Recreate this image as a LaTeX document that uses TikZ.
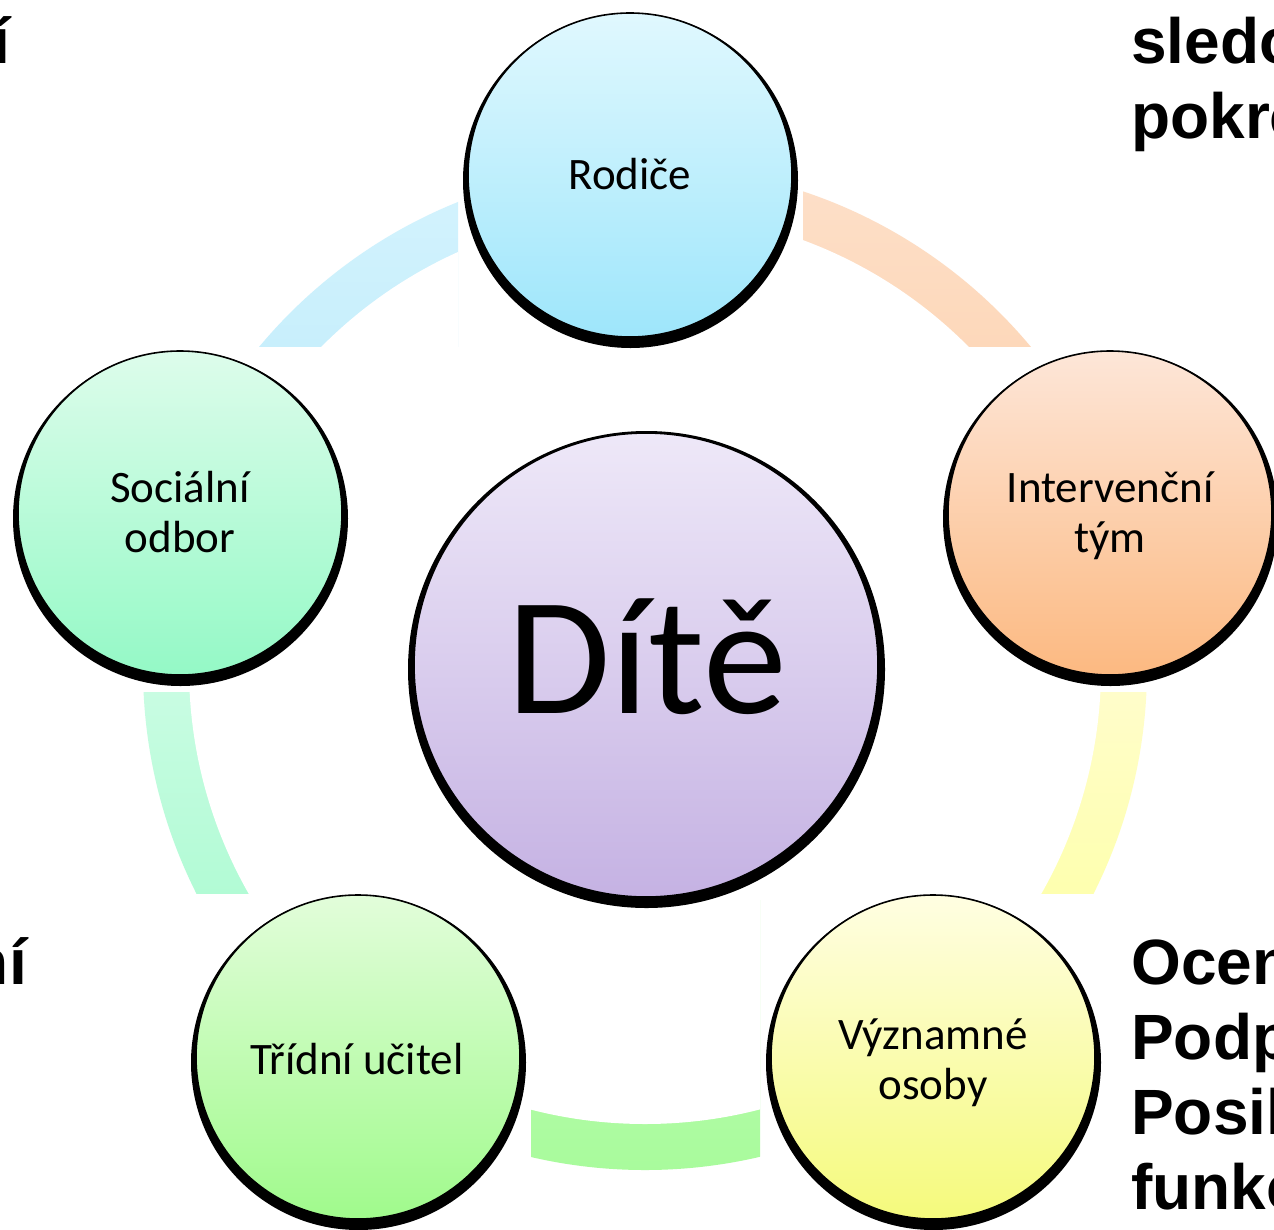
\documentclass[tikz,border=0pt]{standalone}
\usepackage{fontspec}
\setmainfont{Carlito}
\newfontfamily\headfont{Liberation Sans}
\usetikzlibrary{calc}
\definecolor{rodT}{HTML}{E0F8FE}\definecolor{rodB}{HTML}{9EE6FB}
\definecolor{intT}{HTML}{FDE6D8}\definecolor{intB}{HTML}{FCB981}
\definecolor{socT}{HTML}{DDFCEB}\definecolor{socB}{HTML}{94F9C6}
\definecolor{triT}{HTML}{E2FDDA}\definecolor{triB}{HTML}{A0FA8C}
\definecolor{vyzT}{HTML}{FFFEE2}\definecolor{vyzB}{HTML}{F5FA7C}
\definecolor{ditT}{HTML}{EEE8F8}\definecolor{ditB}{HTML}{C5B2E3}
\definecolor{aTLt}{HTML}{E0F7FE}\definecolor{aTLb}{HTML}{C8EFFC}
\definecolor{aTRt}{HTML}{FDE7D8}\definecolor{aTRb}{HTML}{FDD8BA}
\definecolor{aRt}{HTML}{FFFDCA}\definecolor{aRb}{HTML}{FEFFAF}
\definecolor{aBt}{HTML}{C2FCB8}\definecolor{aBb}{HTML}{A3FB96}
\definecolor{aLt}{HTML}{C8FCE2}\definecolor{aLb}{HTML}{B2FBD5}
\tikzset{
  ball/.style={circle, inner sep=0pt, outer sep=0pt, minimum size=324pt, draw=black, line width=1.6pt},
  bigball/.style={circle, inner sep=0pt, outer sep=0pt, minimum size=464pt, draw=black, line width=1.6pt},
  shadowfill/.style={fill=black},
  lbl/.style={font=\fontsize{45}{50}\selectfont, anchor=base, inner sep=0pt},
  side/.style={font=\headfont\bfseries\fontsize{64}{75}\selectfont, inner sep=0pt}
}
\newcommand\ringpart[5]{%
  \begin{scope}
    \clip #1 rectangle #2;
    \clip (ring) circle (502pt);
    \shade[top color=#3, bottom color=#4] #1 rectangle #2;
    \fill[white] (ring) circle (456pt);
  \end{scope}}
\begin{document}
\begin{tikzpicture}[x=1pt,y=-1pt]
\useasboundingbox (0,0) rectangle (1274,1229);
\clip (0,0) rectangle (1274,1229);
\fill[white] (0,0) rectangle (1274,1229);
\coordinate (ring) at (645,668);
% ring segments
\ringpart{(0,0)}{(458,346)}{aTLt}{aTLb}{}
\ringpart{(803,0)}{(1274,346)}{aTRt}{aTRb}{}
\ringpart{(645,692)}{(1274,893)}{aRt}{aRb}{}
\ringpart{(531,900)}{(760,1229)}{aBt}{aBb}{}
\ringpart{(0,692)}{(645,893)}{aLt}{aLb}{}
% centres
\coordinate (cRod) at (630,175);
\coordinate (cInt) at (1110,513);
\coordinate (cSoc) at (180,513);
\coordinate (cTri) at (358,1057);
\coordinate (cVyz) at (933,1057);
\coordinate (cDit) at (646,665);
% shadows
\foreach \c in {cRod,cInt,cSoc,cTri,cVyz}{
  \fill[shadowfill] ($(\c)+(0.5,5.5)$) circle (167.5pt);
}
\fill[shadowfill] ($(cDit)+(0.5,4.5)$) circle (238.5pt);
% circles
\node[ball, top color=rodT, bottom color=rodB] (rod) at (cRod) {};
\node[ball, top color=intT, bottom color=intB] (int) at (cInt) {};
\node[ball, top color=socT, bottom color=socB] (soc) at (cSoc) {};
\node[ball, top color=triT, bottom color=triB] (tri) at (cTri) {};
\node[ball, top color=vyzT, bottom color=vyzB] (vyz) at (cVyz) {};
\node[bigball, top color=ditT, bottom color=ditB] (dit) at (cDit) {};
% labels
\node[lbl] (trod) at (630,189) {Rodiče};
\node[lbl] (tint) at (1110,502) {\begin{tabular}[t]{@{}c@{}}Intervenční\\tým\end{tabular}};
\node[lbl] (tsoc) at (180,502) {\begin{tabular}[t]{@{}c@{}}Sociální\\odbor\end{tabular}};
\node[lbl] (ttri) at (357,1074) {Třídní učitel};
\node[lbl] (tvyz) at (933,1049) {\begin{tabular}[t]{@{}c@{}}Významné\\osoby\end{tabular}};
\node[inner sep=0pt, anchor=base, font=\fontsize{168}{170}\selectfont] (tdit) at (647,713) {Dítě};
% clipped side texts
\node[side, anchor=base east] (s1) at (10,63) {í};
\node[side, anchor=base east] (s2) at (27,984) {ní};
\node[side, anchor=base west] (s3) at (1131,63) {sledo};
\node[side, anchor=base west] (s4) at (1131,138) {pokro};
\node[side, anchor=base west] (s5) at (1131,984) {Ocen};
\node[side, anchor=base west] (s6) at (1131,1059) {Podp};
\node[side, anchor=base west] (s7) at (1131,1134) {Posil};
\node[side, anchor=base west] (s8) at (1131,1209) {funkc};
\end{tikzpicture}
\end{document}
